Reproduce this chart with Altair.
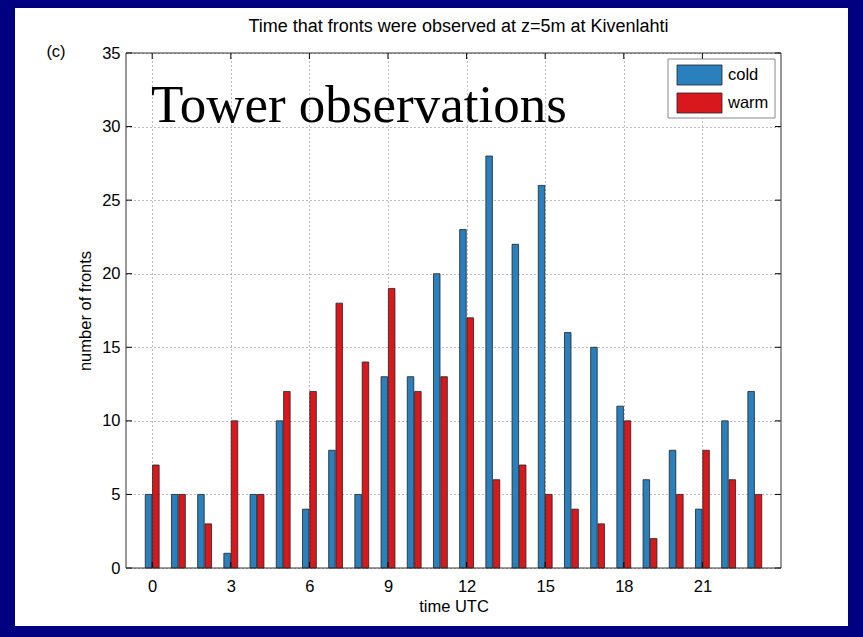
import altair as alt
import pandas as pd

# Hour-of-day counts of fronts observed at z = 5 m
hours = list(range(24))
cold_counts = [5, 5, 5, 1, 5, 10, 4, 8, 5, 13, 13, 20, 23, 28, 22, 26, 16, 15, 11, 6, 8, 4, 10, 12]
warm_counts = [7, 5, 3, 10, 5, 12, 12, 18, 14, 19, 12, 13, 17, 6, 7, 5, 4, 3, 10, 2, 5, 8, 6, 5]
series_names = ["cold", "warm"]
series_colors = ["#2a7fbd", "#d8181d"]
x_ticks = [0, 3, 6, 9, 12, 15, 18, 21]
y_ticks = [0, 5, 10, 15, 20, 25, 30, 35]

title_text = "Time that fronts were observed at z=5m at Kivenlahti"
panel_tag = "(c)"
banner_text = "Tower observations"

W, H = 655, 515
FONT = "Liberation Sans"
NAVY = "#000080"

df = pd.DataFrame({
    "hour": hours * 2,
    "series": ["cold"] * 24 + ["warm"] * 24,
    "count": cold_counts + warm_counts,
})

x_scale = alt.Scale(domain=[-1, 24], nice=False, zero=False)
y_scale = alt.Scale(domain=[0, 35], nice=False)
color_scale = alt.Scale(domain=series_names, range=series_colors)

one = pd.DataFrame({"k": [0]})

bars = (
    alt.Chart(df)
    .transform_calculate(
        x0="datum.hour + (datum.series == 'cold' ? -0.265 : 0.015)",
        x1="datum.hour + (datum.series == 'cold' ? -0.015 : 0.265)",
    )
    .mark_bar(stroke="#222222", strokeWidth=0.8)
    .encode(
        x=alt.X(
            "x0:Q",
            scale=x_scale,
            axis=alt.Axis(
                values=x_ticks, title="time UTC", tickSize=0, domain=False,
                labelPadding=10, titlePadding=4, gridDash=[1, 3], gridColor="#777777",
            ),
        ),
        x2="x1:Q",
        y=alt.Y(
            "count:Q",
            scale=y_scale,
            stack=None,
            axis=alt.Axis(
                values=y_ticks, title="number of fronts", tickSize=0, domain=False,
                labelPadding=6, titlePadding=8, gridDash=[1, 3], gridColor="#777777",
            ),
        ),
        y2=alt.datum(0),
        color=alt.Color("series:N", scale=color_scale, legend=None),
    )
)

# Inward tick marks on all four sides of the box
xt = pd.DataFrame({"t": x_ticks})
yt = pd.DataFrame({"v": y_ticks})
tick_bottom = alt.Chart(xt).mark_rule(color="black").encode(
    x=alt.X("t:Q", scale=x_scale), y=alt.value(H), y2=alt.value(H - 6))
tick_top = alt.Chart(xt).mark_rule(color="black").encode(
    x=alt.X("t:Q", scale=x_scale), y=alt.value(0), y2=alt.value(6))
tick_left = alt.Chart(yt).mark_rule(color="black").encode(
    y=alt.Y("v:Q", scale=y_scale), x=alt.value(0), x2=alt.value(6))
tick_right = alt.Chart(yt).mark_rule(color="black").encode(
    y=alt.Y("v:Q", scale=y_scale), x=alt.value(W), x2=alt.value(W - 6))

box = alt.Chart(one).mark_rect(fillOpacity=0, stroke="#333333", strokeWidth=1).encode(
    x=alt.value(0), x2=alt.value(W), y=alt.value(0), y2=alt.value(H))

# Legend drawn inside the plot, top right
legend_box = alt.Chart(one).mark_rect(fill="white", stroke="#888888", strokeWidth=1).encode(
    x=alt.value(542), x2=alt.value(649), y=alt.value(6), y2=alt.value(65))
legend_layers = [legend_box]
for i, name in enumerate(series_names):
    yc = 22 + 28 * i
    ldf = pd.DataFrame({"series": [name]})
    legend_layers.append(
        alt.Chart(ldf).mark_rect(stroke="#222222", strokeWidth=0.8).encode(
            x=alt.value(551), x2=alt.value(596), y=alt.value(yc - 10), y2=alt.value(yc + 10),
            color=alt.Color("series:N", scale=color_scale, legend=None),
        )
    )
    legend_layers.append(
        alt.Chart(ldf).mark_text(align="left", baseline="middle", font=FONT, fontSize=16.5, color="black").encode(
            x=alt.value(602), y=alt.value(yc), text="series:N")
    )

# Text annotations
def text_layer(txt, x, y, **kw):
    return alt.Chart(pd.DataFrame({"s": [txt]})).mark_text(**kw).encode(
        x=alt.value(x), y=alt.value(y), text="s:N")

title = text_layer(title_text, W / 2 + 5, -26, font=FONT, fontSize=18, align="center",
                   baseline="middle", color="black")
tag = text_layer(panel_tag, -70, -1, font=FONT, fontSize=16.5, align="center",
                 baseline="middle", color="black")
banner = text_layer(banner_text, 25, 69, font="Liberation Serif", fontSize=53, align="left",
                    baseline="alphabetic", color="black")

# Navy frame around the white page
frame_parts = [
    (-126, 737, -53, -45),
    (-126, 737, 573, 584),
    (-126, -111, -53, 584),
    (722, 737, -53, 584),
]
frame = [
    alt.Chart(one).mark_rect(color=NAVY).encode(
        x=alt.value(a), x2=alt.value(b), y=alt.value(c), y2=alt.value(d))
    for a, b, c, d in frame_parts
]

chart = (
    alt.layer(bars, tick_bottom, tick_top, tick_left, tick_right, box,
              *legend_layers, title, tag, banner, *frame)
    .properties(
        width=W, height=H,
        autosize=alt.AutoSizeParams(type="none"),
        padding={"left": 126, "top": 53, "right": 82, "bottom": 69},
        background="white",
    )
    .configure_view(stroke=None)
    .configure_axis(
        labelFont=FONT, titleFont=FONT, labelFontSize=16.5, titleFontSize=16.5,
        titleFontWeight="normal", labelColor="black", titleColor="black",
    )
)

chart.save("out.html", embed_options={"renderer": "svg", "actions": False})
